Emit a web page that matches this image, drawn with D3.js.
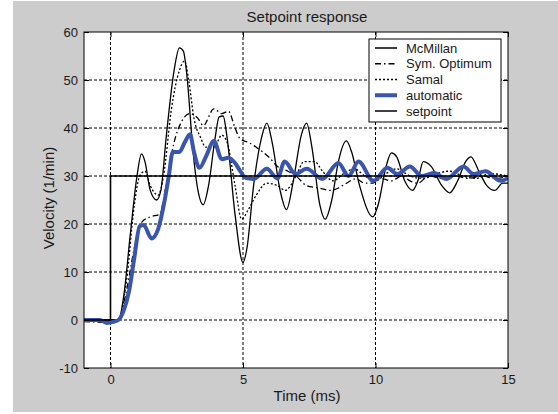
<!DOCTYPE html>
<html>
<head>
<meta charset="utf-8">
<script src="https://d3js.org/d3.v7.min.js"></script>
<style>
  body { margin: 0; background: #fff; }
  svg text { font-family: "Liberation Sans", Arial, sans-serif; fill: #1a1a1a; }
</style>
</head>
<body>
<div id="chart"></div>
<script>
  // tick values
  const xTicks = [0, 5, 10, 15],
    yTicks = [-10, 0, 10, 20, 30, 40, 50, 60];

  // series as [time (ms), velocity (1/min)]
  const mcmillan = [[-1,0],[0.3,0],[0.5,5],[0.75,18],[1.0,30],[1.17,34.6],[1.3,33],[1.5,27],[1.74,25],[1.9,27],
    [2.1,38],[2.4,52],[2.6,56.7],[2.75,56],[2.9,50],[3.1,36],[3.3,27],[3.5,24],[3.7,28],[3.95,38],[4.1,42.3],
    [4.25,42.5],[4.4,38],[4.7,22],[5.0,12],[5.15,15],[5.4,28],[5.7,38],[5.9,41],[6.1,37],[6.4,27],[6.64,23],
    [6.9,29],[7.2,38.5],[7.4,41],[7.6,36],[7.9,24],[8.1,21],[8.35,25],[8.6,33],[8.9,37.3],[9.1,35],[9.4,28],
    [9.9,21.5],[10.1,24],[10.4,32],[10.6,34.8],[10.8,34],[11.1,29],[11.4,27],[11.6,29],[11.8,33],[12.1,32],
    [12.5,28],[12.8,26.5],[13.1,29],[13.4,33],[13.6,34],[13.9,31],[14.2,28],[14.5,27],[14.8,28.5],[15,28.5]];

  const symOptimum = [[-1,-0.3],[0,-0.5],[0.3,0],[0.6,6],[0.9,15],[1.2,20.5],[1.5,21.5],[1.85,22],[2.1,28],
    [2.4,37],[2.7,41.5],[3.0,43],[3.3,42],[3.5,40.5],[3.9,44],[4.2,43],[4.45,43.5],[4.7,40],[4.9,37.7],[5.2,37],
    [5.5,36],[6.0,33.8],[6.3,32],[6.7,31],[7.0,30],[7.4,28],[7.85,27.5],[8.3,27],[8.6,27.5],[8.9,28.5],[9.25,29.4],
    [9.6,28.5],[9.9,28.5],[10.2,29.5],[10.6,29],[11.0,30],[11.3,29],[11.6,28.5],[12.0,30],[12.5,29.5],[13.0,30],
    [13.5,29.5],[14,30],[14.5,29.5],[15,30]];

  const samal = [[-1,0],[0.3,0],[0.6,8],[0.9,24],[1.1,30],[1.3,31],[1.5,28],[1.8,26],[2.0,30],[2.3,44],[2.6,52],
    [2.8,54],[2.95,50],[3.15,42],[3.4,38],[3.6,36],[3.9,36],[4.2,38.5],[4.4,37],[4.7,28],[4.95,21],[5.2,23],
    [5.5,26],[5.9,28.5],[6.3,28],[6.6,27],[7.0,30],[7.3,33],[7.7,33],[8.0,31],[8.4,29],[8.8,30.5],[9.2,31.5],
    [9.6,30],[10.0,29],[10.4,30.5],[10.8,31.5],[11.3,30],[11.8,29.5],[12.3,30.5],[12.8,31],[13.3,30],[13.8,29.5],
    [14.3,30.5],[15,30]];

  const automatic = [[-1,0],[-0.4,0],[-0.15,-0.6],[0.1,-0.4],[0.3,0],[0.5,2],[0.7,6],[0.9,13],[1.1,19.5],
    [1.25,19.8],[1.55,17],[1.8,19],[2.04,24.8],[2.2,30],[2.35,35],[2.6,35],[2.8,37],[3.0,38.7],[3.15,35],
    [3.36,31.7],[3.6,34],[3.9,37.3],[4.2,33.5],[4.45,33.8],[4.7,32.7],[4.9,31],[5.1,29.6],[5.4,29.4],[5.9,31.5],
    [6.3,29.5],[6.57,33],[6.98,30.4],[7.4,31.5],[8.0,29.4],[8.6,32.7],[8.98,30],[9.36,33],[9.92,29],[10.45,31.7],
    [10.83,30.4],[11.3,32],[11.74,30],[12.2,30.6],[12.68,29.4],[13.32,32],[13.7,30.4],[14.15,31],[14.72,29],[15,29.6]];

  const setpoint = [[-1,0],[0,0],[0,30],[15,30]];

  const legendNames = ["McMillan", "Sym. Optimum", "Samal", "automatic", "setpoint"];

  const W = 558, H = 414,
    margin = {top: 32, left: 84},
    width = 424,
    height = 336;

  const svg = d3.select("#chart").append("svg")
      .attr("width", W)
      .attr("height", H);

  //grey figure background
  svg.append("rect")
      .attr("x", 13).attr("y", 1)
      .attr("width", W - 13).attr("height", 411)
      .attr("fill", "#cccccc");

  const g = svg.append("g")
      .attr("transform", "translate(" + margin.left + "," + margin.top + ")");

  const x = d3.scaleLinear().domain([-1, 15]).range([0, width]);
  const y = d3.scaleLinear().domain([-10, 60]).range([height, 0]);

  g.append("rect")
      .attr("width", width).attr("height", height)
      .attr("fill", "#fff");

  g.append("defs").append("clipPath").attr("id", "clip")
    .append("rect").attr("width", width).attr("height", height);

  //dotted grid
  g.selectAll(".gx").data(xTicks.filter(d => d > -1 && d < 15))
    .enter().append("line")
      .attr("x1", d => x(d)).attr("x2", d => x(d))
      .attr("y1", 0).attr("y2", height)
      .attr("stroke", "#000").attr("stroke-width", 1)
      .attr("stroke-dasharray", "3,2");

  g.selectAll(".gy").data(yTicks.filter(d => d > -10 && d < 60))
    .enter().append("line")
      .attr("x1", 0).attr("x2", width)
      .attr("y1", d => y(d)).attr("y2", d => y(d))
      .attr("stroke", "#000").attr("stroke-width", 1)
      .attr("stroke-dasharray", "3,2");

  const line = d3.line()
      .x(d => x(d[0]))
      .y(d => y(d[1]));

  const series = [
    {name: "McMillan", data: mcmillan, color: "#000", w: 1.3, dash: null},
    {name: "Sym. Optimum", data: symOptimum, color: "#000", w: 1.3, dash: "6,3,1.5,3"},
    {name: "Samal", data: samal, color: "#000", w: 1.3, dash: "2,2"},
    {name: "automatic", data: automatic, color: "#3a55ad", w: 4, dash: null},
    {name: "setpoint", data: setpoint, color: "#000", w: 1.6, dash: null}
  ];

  const plot = g.append("g").attr("clip-path", "url(#clip)");

  series.forEach(function(s){
    plot.append("path")
      .datum(s.data)
      .attr("fill", "none")
      .attr("stroke", s.color)
      .attr("stroke-width", s.w)
      .attr("stroke-dasharray", s.dash)
      .attr("stroke-linejoin", "round")
      .attr("d", s.name === "setpoint" ? line.curve(d3.curveLinear)(s.data) : line.curve(d3.curveMonotoneX)(s.data));
  });

  //axes with inward ticks on all four sides
  const styleAxis = function(sel){
    sel.select(".domain").remove();
    sel.selectAll("line").attr("stroke", "#000");
    sel.selectAll("text").style("font-size", "13px").attr("fill", "#1a1a1a");
  };

  g.append("g")
      .call(d3.axisLeft(y).tickValues(yTicks).tickSize(-5).tickPadding(6).tickFormat(d => String(d)))
      .call(styleAxis);

  g.append("g")
      .attr("transform", "translate(" + width + ",0)")
      .call(d3.axisRight(y).tickValues(yTicks).tickSize(-5).tickFormat(""))
      .call(styleAxis);

  g.append("g")
      .attr("transform", "translate(0," + height + ")")
      .call(d3.axisBottom(x).tickValues(xTicks).tickSize(-5).tickPadding(7).tickFormat(d => String(d)))
      .call(styleAxis);

  g.append("g")
      .call(d3.axisTop(x).tickValues(xTicks).tickSize(-5).tickFormat(""))
      .call(styleAxis);

  g.append("rect")
      .attr("width", width).attr("height", height)
      .attr("fill", "none").attr("stroke", "#000").attr("stroke-width", 1);

  //titles
  svg.append("text")
      .attr("x", 307).attr("y", 22)
      .attr("text-anchor", "middle")
      .style("font-size", "15px")
      .text("Setpoint response");

  svg.append("text")
      .attr("x", 307).attr("y", 401)
      .attr("text-anchor", "middle")
      .style("font-size", "15px")
      .text("Time (ms)");

  svg.append("text")
      .attr("transform", "translate(54,198) rotate(-90)")
      .attr("text-anchor", "middle")
      .style("font-size", "15px")
      .text("Velocity (1/min)");

  //legend
  const legend = svg.append("g").attr("transform", "translate(369,39)");
  legend.append("rect")
      .attr("width", 132).attr("height", 83)
      .attr("fill", "#fff").attr("stroke", "#000").attr("stroke-width", 1);

  const rowY = d3.scalePoint().domain(legendNames).range([9, 72]);

  series.forEach(function(s){
    legend.append("line")
      .attr("x1", 6).attr("x2", 28)
      .attr("y1", rowY(s.name)).attr("y2", rowY(s.name))
      .attr("stroke", s.color)
      .attr("stroke-width", s.w === 4 ? 4 : 1.5)
      .attr("stroke-dasharray", s.dash);
    legend.append("text")
      .attr("x", 37).attr("y", rowY(s.name))
      .attr("dy", "0.35em")
      .style("font-size", "13px")
      .text(s.name);
  });
</script>
</body>
</html>
